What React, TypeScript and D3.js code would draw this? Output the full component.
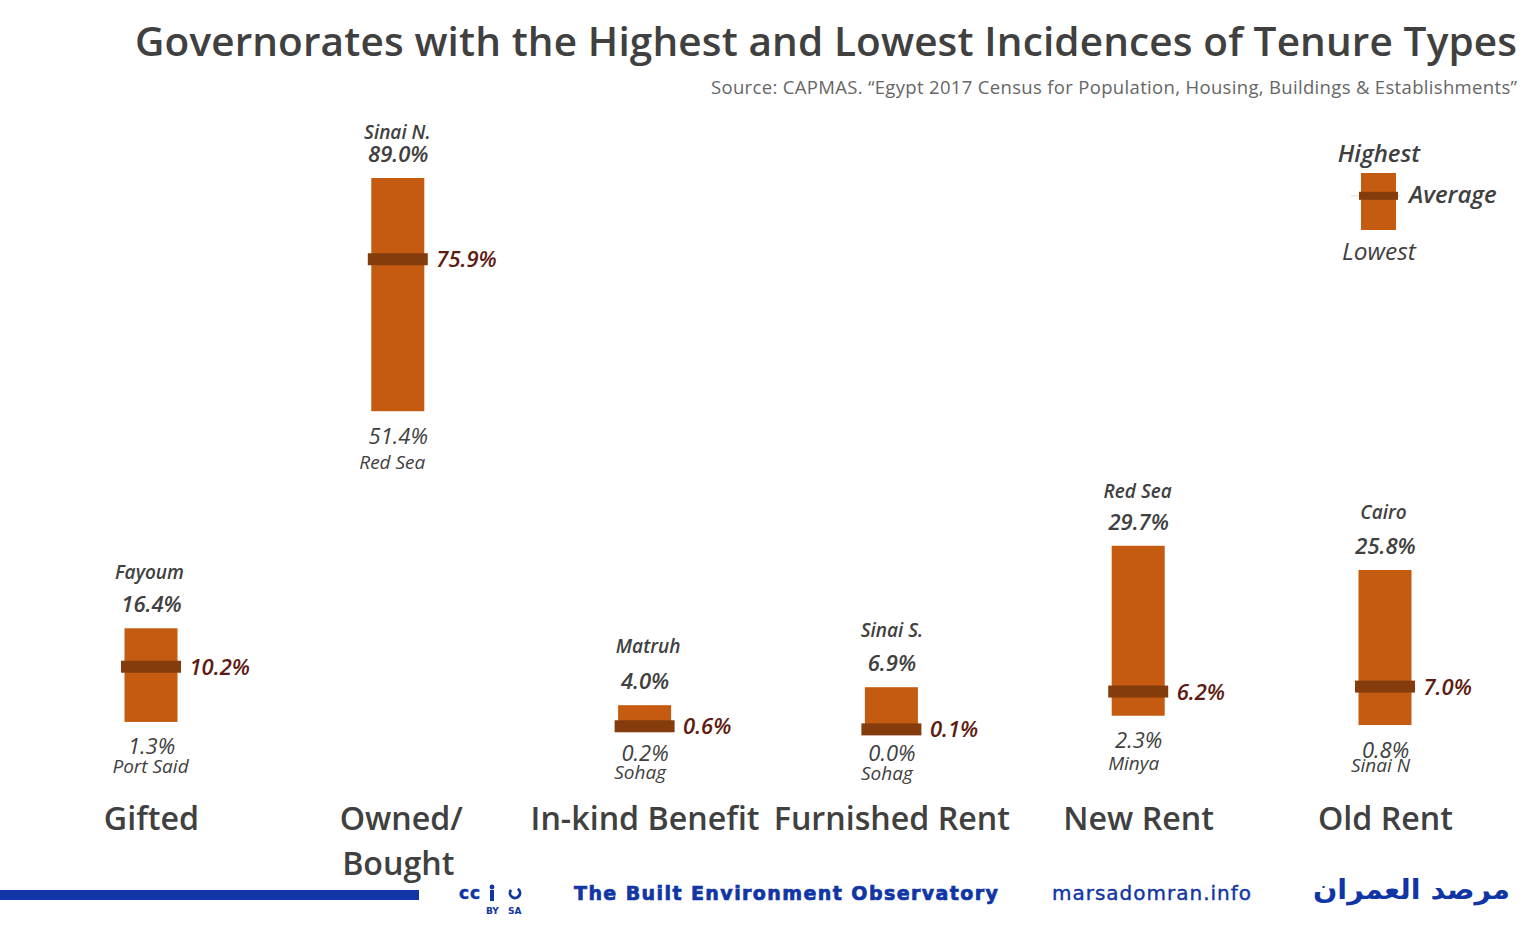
import React from "react";
import * as d3 from "d3";

const categories = ["Gifted", "Owned/Bought", "In-kind Benefit", "Furnished Rent", "New Rent", "Old Rent"];
const highest = [16.4, 89.0, 4.0, 6.9, 29.7, 25.8];
const lowest = [1.3, 51.4, 0.2, 0.0, 2.3, 0.8];
const average = [10.2, 75.9, 0.6, 0.1, 6.2, 7.0];
const highestNames = ["Fayoum", "Sinai N.", "Matruh", "Sinai S.", "Red Sea", "Cairo"];
const lowestNames = ["Port Said", "Red Sea", "Sohag", "Sohag", "Minya", "Sinai N"];
const legendLabels = ["Highest", "Average", "Lowest"];
const legendValues = [1, 0.6, 0];

// hand placed label nudges, the labels in the original were not aligned
const nameUp = [50, 40, 53, 51, 49, 52];
const nameUpX = [-2, -1, 3, 0, -1, -2];
const lowValueDown = [32, 33, 32, 31, 32, 33];
const lowNameDown = [51, 58, 50, 50, 54, 47];
const lowNameX = [-1, -6, -5, -5, -5, -5];

const W = 1537;
const H = 925;
const sans = "'Open Sans', 'Noto Sans', sans-serif";
const textColor = "#404040";
const barColor = "#C55A11";
const avgColor = "#843C0C";
const avgText = "#5E1B12";
const blue = "#1035A5";

const x = d3.scalePoint<string>().domain(categories).range([151.5, 1385.5]);
const y = d3.scaleLinear().domain([0, 89]).range([730, 178]);
const legendY = d3.scaleLinear().domain([0, 1]).range([230, 173]);
const pct = (v: number) => `${v.toFixed(1)}%`;
const saArc = d3.arc()({ innerRadius: 3.6, outerRadius: 6.4, startAngle: 0.6, endAngle: Math.PI * 2 - 0.9 } as any) as string;

export default function App() {
  const barW = 53;
  return (
    <svg width={W} height={H} style={{ position: "absolute", left: 0, top: 0, background: "#fff" }} fontFamily={sans}>
      <text x={1517} y={56} textAnchor="end" fontSize={40.5} fontWeight={600} fill={textColor} textLength={1382}>
        Governorates with the Highest and Lowest Incidences of Tenure Types
      </text>
      <text x={1517} y={94} textAnchor="end" fontSize={18.5} fill="#666" textLength={806}>
        Source: CAPMAS. “Egypt 2017 Census for Population, Housing, Buildings &amp; Establishments”
      </text>

      {categories.map((c, i) => {
        const cx = x(c) as number;
        const top = y(highest[i]);
        const bottom = y(lowest[i]);
        const mid = y(average[i]);
        const lines = c === "Owned/Bought" ? ["Owned/", "Bought"] : [c];
        return (
          <g key={c}>
            <rect x={cx - barW / 2 - 0.5} y={top} width={barW} height={bottom - top} fill={barColor} />
            <rect x={cx - 30.5} y={mid - 6} width={60} height={12} fill={avgColor} />
            <text x={cx + nameUpX[i]} y={top - nameUp[i] + 1} textAnchor="middle" fontSize={19} fontStyle="italic" fontWeight={600} fill={textColor}>
              {highestNames[i]}
            </text>
            <text x={cx} y={top - 16} textAnchor="middle" fontSize={22} fontStyle="italic" fontWeight={600} fill={textColor}>
              {pct(highest[i])}
            </text>
            <text x={cx + 38} y={mid + 8} fontSize={22} fontStyle="italic" fontWeight={600} fill={avgText}>
              {pct(average[i])}
            </text>
            <text x={cx} y={bottom + lowValueDown[i]} textAnchor="middle" fontSize={22} fontStyle="italic" fill={textColor}>
              {pct(lowest[i])}
            </text>
            <text x={cx + lowNameX[i]} y={bottom + lowNameDown[i]} textAnchor="middle" fontSize={19} fontStyle="italic" fill={textColor}>
              {lowestNames[i]}
            </text>
            {lines.map((l, j) => (
              <text key={l} x={cx + (l === "Owned/" ? 3 : 0)} y={830 + j * 45} textAnchor="middle" fontSize={32.2} fontWeight={600} fill={textColor}>
                {l}
              </text>
            ))}
          </g>
        );
      })}

      {/* legend */}
      <rect x={1361} y={legendY(legendValues[0])} width={35} height={legendY(legendValues[2]) - legendY(legendValues[0])} fill={barColor} />
      <line x1={1351} x2={1400} y1={legendY(legendValues[1])} y2={legendY(legendValues[1])} stroke="#ddd" strokeWidth={1} />
      <rect x={1359} y={legendY(legendValues[1]) - 4} width={39} height={8} fill={avgColor} />
      <text x={1379} y={162} textAnchor="middle" fontSize={24} fontStyle="italic" fontWeight={600} fill={textColor}>{legendLabels[0]}</text>
      <text x={1409} y={203} fontSize={24} fontStyle="italic" fontWeight={600} fill={textColor}>{legendLabels[1]}</text>
      <text x={1379} y={260} textAnchor="middle" fontSize={24.5} fontStyle="italic" fill={textColor}>{legendLabels[2]}</text>

      {/* footer */}
      <rect x={0} y={890} width={419} height={10} fill={blue} />
      <text x={459} y={899} fontSize={17} fontWeight={800} fill={blue} stroke={blue} strokeWidth={0.5} fontFamily="'DejaVu Sans'" textLength={21}>cc</text>
      <circle cx={492} cy={887} r={2.4} fill={blue} />
      <rect x={490} y={890} width={4} height={11} fill={blue} />
      <path d={saArc} transform="translate(515,893)" fill={blue} />
      <text x={486} y={914} fontSize={9} fontWeight={700} fill={blue} fontFamily="'DejaVu Sans'">BY</text>
      <text x={508} y={914} fontSize={9} fontWeight={700} fill={blue} fontFamily="'DejaVu Sans'">SA</text>
      <text x={574} y={900} fontSize={19} fontWeight={700} fill={blue} stroke={blue} strokeWidth={0.7} fontFamily="'DejaVu Sans'" textLength={424}>The Built Environment Observatory</text>
      <text x={1052} y={900} fontSize={20} fontWeight={500} fill={blue} stroke={blue} strokeWidth={0.4} fontFamily="'DejaVu Sans'" textLength={199}>marsadomran.info</text>
      <text x={1313} y={899} fontSize={27} fontWeight={700} fill={blue} fontFamily="'DejaVu Sans'" textLength={197} lengthAdjust="spacingAndGlyphs">مرصد العمران</text>
    </svg>
  );
}
